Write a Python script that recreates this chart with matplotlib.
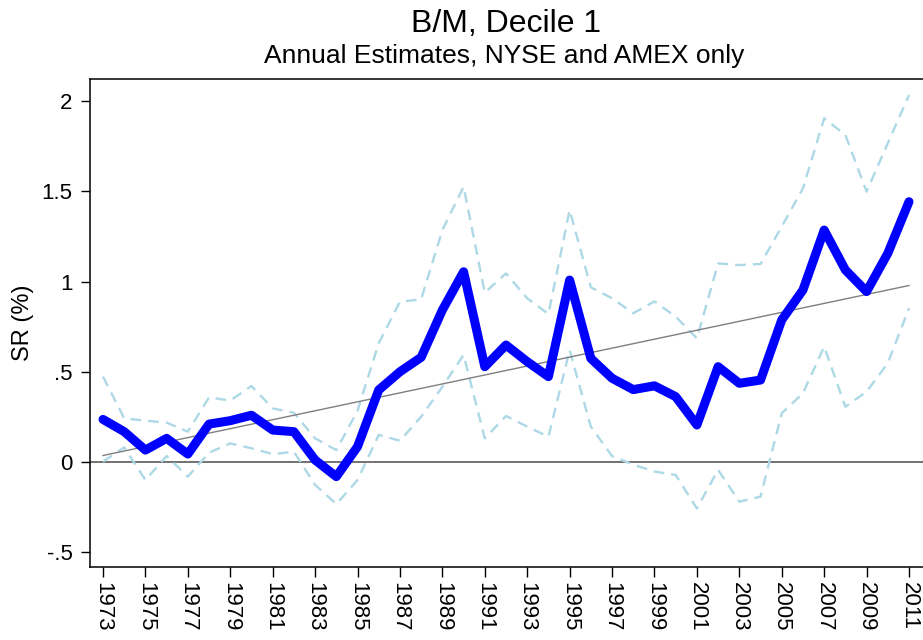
import numpy as np
import matplotlib
matplotlib.use('Agg')
import matplotlib.pyplot as plt

plt.rcParams['font.family'] = ['Liberation Sans', 'DejaVu Sans']

# annual estimates
years = np.arange(1973, 2012)
sr = [0.236, 0.168, 0.066, 0.131, 0.044, 0.210, 0.229, 0.259, 0.177, 0.168,
      0.011, -0.081, 0.085, 0.399, 0.500, 0.580, 0.842, 1.054, 0.528, 0.648,
      0.556, 0.473, 1.008, 0.574, 0.464, 0.401, 0.422, 0.362, 0.205, 0.528,
      0.436, 0.454, 0.787, 0.953, 1.285, 1.064, 0.944, 1.156, 1.442]
sr_upper = [0.473, 0.242, 0.229, 0.218, 0.168, 0.358, 0.340, 0.421, 0.297, 0.273,
            0.131, 0.066, 0.284, 0.658, 0.888, 0.901, 1.285, 1.525, 0.938, 1.045,
            0.907, 0.820, 1.396, 0.968, 0.907, 0.824, 0.890, 0.805, 0.685, 1.100,
            1.091, 1.097, 1.304, 1.516, 1.904, 1.812, 1.498, 1.766, 2.033]
sr_lower = [0.002, 0.081, -0.100, 0.033, -0.081, 0.052, 0.103, 0.076, 0.044, 0.057,
            -0.127, -0.233, -0.100, 0.150, 0.118, 0.251, 0.417, 0.593, 0.131, 0.255,
            0.196, 0.140, 0.620, 0.196, 0.033, -0.015, -0.053, -0.072, -0.257, -0.044,
            -0.220, -0.192, 0.270, 0.381, 0.639, 0.306, 0.390, 0.547, 0.852]

xticks = np.arange(1973, 2012, 2)
yticks = [-0.5, 0, 0.5, 1, 1.5, 2]
ytick_labels = ['-.5', '0', '.5', '1', '1.5', '2']

# linear trend of the point estimates
coef = np.polyfit(years, sr, 1)
trend = np.polyval(coef, years)

fig = plt.figure(figsize=(9.23, 6.40), dpi=100)
W, H = 923.0, 640.0
ax = fig.add_axes([90 / W, (640 - 567) / H, 835 / W, (567 - 79) / H])

ax.axhline(0, color='#5a5a5a', lw=1.2, zorder=1)
ax.plot(years, sr_upper, color='#add8e6', lw=1.7, ls=(0, (4.5, 3)), zorder=2)
ax.plot(years, sr_lower, color='#add8e6', lw=1.7, ls=(0, (4.5, 3)), zorder=2)
ax.plot(years, trend, color='#7f7f7f', lw=1.0, zorder=3)
ax.plot(years, sr, color='#0000ff', lw=6.5, solid_joinstyle='round',
        solid_capstyle='round', zorder=4)

ax.set_xlim(1973 - 13 / 21.21, 2011 + 16 / 21.21)
ax.set_ylim((462 - 567) / 180.5, (462 - 79) / 180.5)

ax.set_xticks(xticks)
ax.set_xticklabels([str(y) for y in xticks], rotation=270, fontsize=16)
ax.set_yticks(yticks)
ax.set_yticklabels(ytick_labels, fontsize=16)
ax.tick_params(axis='x', direction='out', length=7, width=1.0, color='black', pad=4)
ax.tick_params(axis='y', direction='out', length=6.5, width=1.0, color='black', pad=6)
ax.spines['right'].set_visible(False)
for s in ['left', 'top', 'bottom']:
    ax.spines[s].set_linewidth(1.1)

ax.set_ylabel('SR (%)', fontsize=17)
ax.yaxis.set_label_coords(34 / W, (640 - 323) / H, transform=fig.transFigure)

fig.text(506 / W, 1 - 32 / H, 'B/M, Decile 1', ha='center', va='baseline', fontsize=23)
fig.text(504 / W, 1 - 63 / H, 'Annual Estimates, NYSE and AMEX only', ha='center',
         va='baseline', fontsize=19)

fig.savefig('out.png', dpi=100)
